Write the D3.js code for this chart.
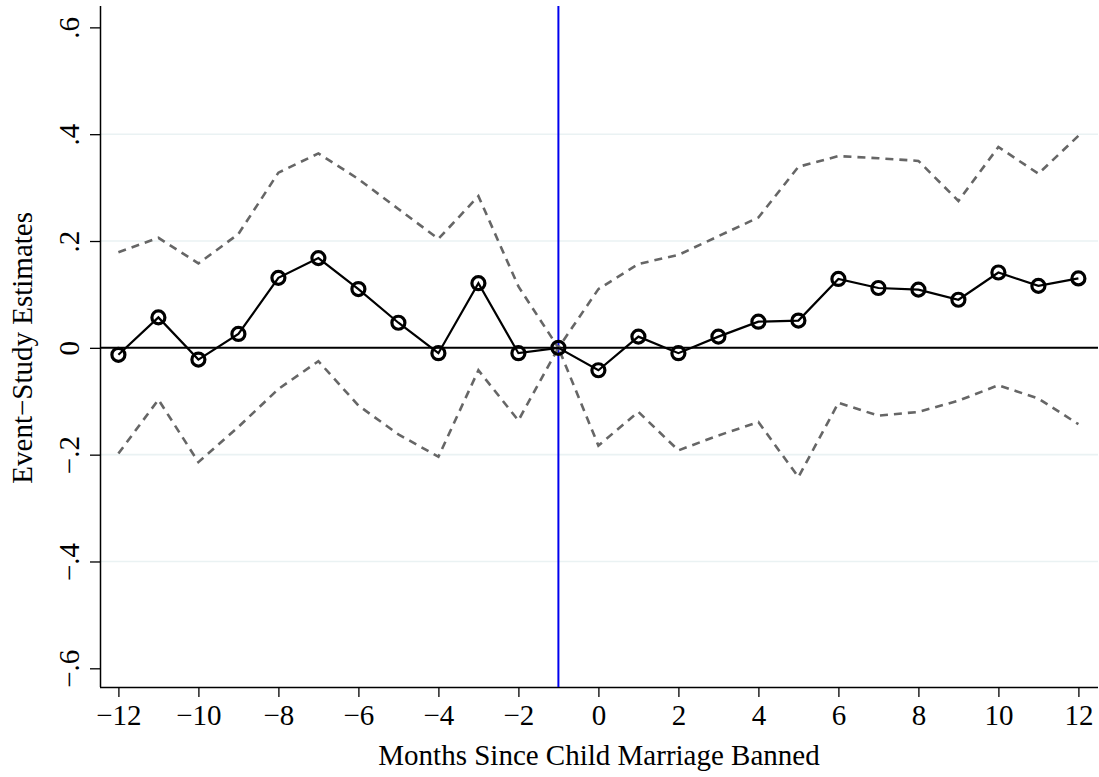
<!DOCTYPE html>
<html>
<head>
<meta charset="utf-8">
<script src="https://cdn.jsdelivr.net/npm/d3@7"></script>
<style>
  html, body { margin: 0; padding: 0; background: #fff; }
  svg { display: block; font-family: "Liberation Serif", "DejaVu Serif", serif; }
</style>
</head>
<body>
<svg id="chart" width="1099" height="777"></svg>
<script>
// Months relative to the ban
const months = [-12,-11,-10,-9,-8,-7,-6,-5,-4,-3,-2,-1,0,1,2,3,4,5,6,7,8,9,10,11,12];
// Point estimates
const estimates = [-0.013,0.057,-0.022,0.026,0.131,0.168,0.110,0.047,-0.010,0.121,-0.010,0,
                   -0.042,0.021,-0.010,0.021,0.049,0.051,0.129,0.112,0.109,0.090,0.141,0.116,0.130];
// Upper and lower confidence bounds
const upperCI = [0.179,0.206,0.158,0.213,0.328,0.364,0.316,0.260,0.204,0.284,0.115,0,
                 0.110,0.157,0.174,0.209,0.244,0.339,0.359,0.355,0.350,0.275,0.376,0.326,0.397];
const lowerCI = [-0.198,-0.097,-0.214,-0.148,-0.077,-0.025,-0.108,-0.162,-0.204,-0.042,-0.136,0,
                 -0.183,-0.120,-0.192,-0.164,-0.139,-0.242,-0.103,-0.127,-0.120,-0.099,-0.070,-0.095,-0.143];
const xTicks = [-12,-10,-8,-6,-4,-2,0,2,4,6,8,10,12];
const yTicks = [-0.6,-0.4,-0.2,0,0.2,0.4,0.6];
const gridTicks = [-0.4,-0.2,0.2,0.4];
const eventMonth = -1;

(function draw() {
  const svg = d3.select("#chart");
  const pL = 100, pR = 1098, pT = 6, pB = 687;
  const fontSize = 29;

  const x = d3.scaleLinear().domain([-12.46, 12.49]).range([pL, pR]);
  const y = d3.scaleLinear().domain([-0.635, 0.64]).range([pB, pT]);

  const fmtY = v => {
    if (Math.abs(v) < 1e-9) return "0";
    const s = Math.abs(v).toFixed(1).replace(/^0/, "");
    return (v < 0 ? "\u2212" : "") + s;
  };
  const fmtX = v => (v < 0 ? "\u2212" : "") + Math.abs(v);

  // Horizontal grid lines
  svg.append("g").selectAll("line")
    .data(gridTicks)
    .join("line")
    .attr("x1", pL).attr("x2", pR)
    .attr("y1", d => y(d)).attr("y2", d => y(d))
    .attr("stroke", "#eaf2f3").attr("stroke-width", 1.6);

  // Y axis
  const yAxis = svg.append("g")
    .attr("transform", `translate(${pL},0)`)
    .call(d3.axisLeft(y).tickValues(yTicks).tickSize(10).tickFormat(fmtY));
  yAxis.select(".domain").attr("d", `M0.5,${pB}V${pT}`).attr("stroke", "#000").attr("stroke-width", 1.5);
  yAxis.selectAll(".tick line").attr("stroke", "#000").attr("stroke-width", 1.3);
  yAxis.selectAll(".tick text")
    .attr("x", 0).attr("dy", 0)
    .attr("transform", "translate(-21,0) rotate(-90)")
    .attr("text-anchor", "middle")
    .attr("font-size", fontSize)
    .attr("font-family", "Liberation Serif")
    .attr("fill", "#000");

  // X axis
  const xAxis = svg.append("g")
    .attr("transform", `translate(0,${pB})`)
    .call(d3.axisBottom(x).tickValues(xTicks).tickSize(10).tickFormat(fmtX));
  xAxis.select(".domain").attr("d", `M${pL},0.5H${pR}`).attr("stroke", "#000").attr("stroke-width", 1.5);
  xAxis.selectAll(".tick line").attr("stroke", "#000").attr("stroke-width", 1.3);
  xAxis.selectAll(".tick text")
    .attr("y", 38).attr("dy", 0)
    .attr("font-size", fontSize)
    .attr("font-family", "Liberation Serif")
    .attr("fill", "#000");

  // Zero reference line
  svg.append("line")
    .attr("x1", pL).attr("x2", pR)
    .attr("y1", y(0)).attr("y2", y(0))
    .attr("stroke", "#000").attr("stroke-width", 2);

  // Event line
  svg.append("line")
    .attr("x1", x(eventMonth)).attr("x2", x(eventMonth))
    .attr("y1", pT).attr("y2", pB)
    .attr("stroke", "#0000ee").attr("stroke-width", 2);

  const rows = months.map((m, i) => ({ m, est: estimates[i], hi: upperCI[i], lo: lowerCI[i] }));

  // Confidence bounds
  const ciLine = key => d3.line().x(d => x(d.m)).y(d => y(d[key]));
  ["hi", "lo"].forEach(k => {
    svg.append("path")
      .datum(rows)
      .attr("d", ciLine(k))
      .attr("fill", "none")
      .attr("stroke", "#666")
      .attr("stroke-width", 2.6)
      .attr("stroke-dasharray", "8,6");
  });

  // Estimates line
  svg.append("path")
    .datum(rows)
    .attr("d", d3.line().x(d => x(d.m)).y(d => y(d.est)))
    .attr("fill", "none")
    .attr("stroke", "#000")
    .attr("stroke-width", 2.2);

  // Hollow markers
  svg.append("g").selectAll("circle")
    .data(rows)
    .join("circle")
    .attr("cx", d => x(d.m))
    .attr("cy", d => y(d.est))
    .attr("r", 6.5)
    .attr("fill", "none")
    .attr("stroke", "#000")
    .attr("stroke-width", 3.2);

  // Axis titles
  svg.append("text")
    .attr("x", (pL + pR) / 2)
    .attr("y", 765)
    .attr("text-anchor", "middle")
    .attr("font-size", fontSize)
    .text("Months Since Child Marriage Banned");

  svg.append("text")
    .attr("transform", `translate(32,${y(0)}) rotate(-90)`)
    .attr("text-anchor", "middle")
    .attr("font-size", fontSize)
    .text("Event\u2212Study Estimates");
})();
</script>
</body>
</html>
